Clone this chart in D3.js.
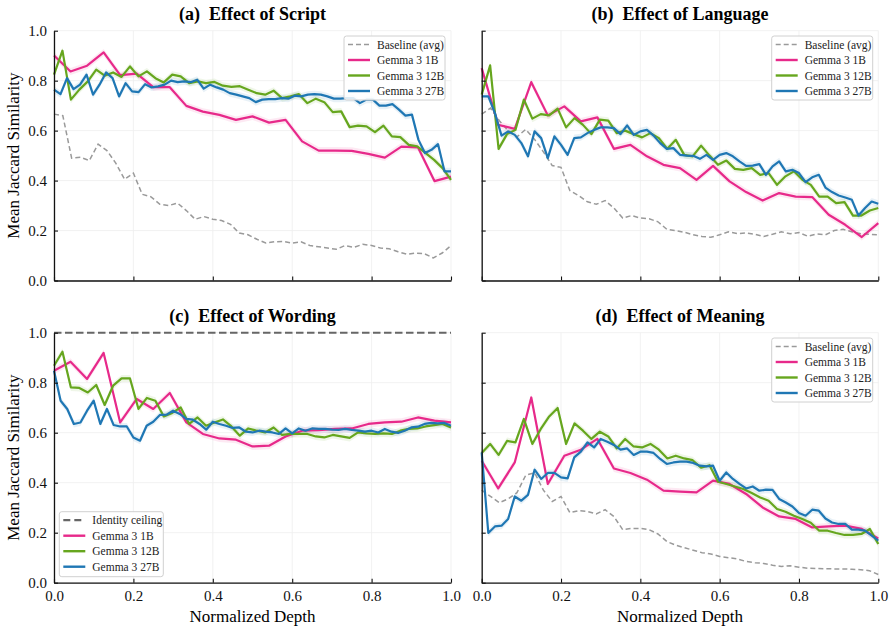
<!DOCTYPE html>
<html>
<head>
<meta charset="utf-8">
<script src="https://cdn.jsdelivr.net/npm/d3@7"></script>
<style>
  body { margin: 0; background: #fff; }
  svg text { font-family: "Liberation Serif", "Times New Roman", Tinos, "DejaVu Serif", serif !important; }
</style>
</head>
<body>
<svg id="chart" width="893" height="632"></svg>
<script>
// ---- data ----
var yTicks = [0.0, 0.2, 0.4, 0.6, 0.8, 1.0];
var xTicks = [0.0, 0.2, 0.4, 0.6, 0.8, 1.0];
var modelNames = ["Gemma 3 1B", "Gemma 3 12B", "Gemma 3 27B"];
var modelColors = ["#e7298a", "#66a61e", "#1f77b4"];
var panelTitles = ["(a)  Effect of Script", "(b)  Effect of Language", "(c)  Effect of Wording", "(d)  Effect of Meaning"];

// (a) script
var scriptBaseline = [0.666,0.66,0.49,0.493,0.48,0.546,0.52,0.47,0.405,0.43,0.345,0.335,0.305,0.30,0.31,0.28,0.245,0.256,0.245,0.24,0.225,0.19,0.183,
  0.165,0.15,0.155,0.156,0.15,0.155,0.14,0.135,0.13,0.125,0.14,0.133,0.145,0.14,0.13,0.127,0.115,0.105,0.11,0.107,0.09,0.11,0.14];
var script1B = [0.901,0.837,0.86,0.913,0.822,0.828,0.774,0.774,0.699,0.676,0.663,0.643,0.657,0.632,0.643,0.557,0.52,0.52,0.519,0.507,0.492,0.536,0.533,0.398,0.416];
var script12B = [0.824,0.92,0.724,0.764,0.797,0.844,0.82,0.833,0.815,0.857,0.817,0.837,0.81,0.793,0.824,0.817,0.79,0.797,0.79,0.795,0.78,0.775,0.778,0.764,
  0.75,0.744,0.76,0.73,0.737,0.746,0.71,0.728,0.714,0.674,0.677,0.614,0.62,0.617,0.594,0.62,0.577,0.574,0.543,0.537,0.51,0.483,0.45,0.403];
var script27B = [0.764,0.746,0.81,0.766,0.784,0.824,0.744,0.784,0.833,0.81,0.737,0.79,0.757,0.754,0.786,0.773,0.777,0.784,0.80,0.794,0.797,0.794,0.804,0.768,
  0.784,0.773,0.764,0.75,0.744,0.737,0.73,0.714,0.724,0.726,0.726,0.73,0.728,0.74,0.737,0.744,0.746,0.744,0.737,0.728,0.728,0.73,0.73,0.71,0.724,0.724,
  0.70,0.70,0.706,0.684,0.66,0.664,0.563,0.51,0.523,0.546,0.437,0.437];

// (b) language
var langBaseline = [0.666,0.69,0.64,0.60,0.575,0.605,0.565,0.515,0.46,0.453,0.36,0.34,0.315,0.305,0.32,0.29,0.25,0.26,0.25,0.247,0.235,0.205,0.2,
  0.193,0.183,0.176,0.173,0.183,0.195,0.188,0.19,0.185,0.176,0.185,0.195,0.187,0.192,0.177,0.186,0.183,0.2,0.205,0.195,0.187,0.185,0.183];
var lang1B = [0.85,0.623,0.607,0.794,0.661,0.697,0.637,0.653,0.527,0.543,0.497,0.463,0.45,0.403,0.459,0.397,0.354,0.32,0.35,0.336,0.334,0.263,0.223,0.174,0.23];
var lang12B = [0.744,0.861,0.527,0.586,0.603,0.724,0.648,0.666,0.661,0.688,0.613,0.65,0.623,0.586,0.644,0.64,0.59,0.60,0.586,0.573,0.59,0.57,0.527,0.563,
  0.503,0.497,0.54,0.50,0.463,0.48,0.447,0.443,0.45,0.423,0.43,0.383,0.417,0.437,0.403,0.383,0.336,0.336,0.31,0.314,0.26,0.26,0.28,0.29];
var lang27B = [0.737,0.737,0.67,0.58,0.597,0.583,0.55,0.497,0.597,0.57,0.49,0.577,0.543,0.503,0.57,0.573,0.59,0.603,0.613,0.613,0.61,0.586,0.621,0.583,
  0.597,0.603,0.58,0.55,0.527,0.53,0.503,0.50,0.499,0.487,0.503,0.483,0.503,0.51,0.497,0.477,0.459,0.46,0.466,0.423,0.457,0.477,0.437,0.443,0.43,0.394,
  0.413,0.423,0.372,0.354,0.34,0.332,0.323,0.26,0.29,0.316,0.307];

// (c) wording
var wordCeiling = [1.0, 1.0];
var word1B = [0.848,0.884,0.815,0.919,0.641,0.735,0.695,0.759,0.641,0.595,0.577,0.572,0.545,0.548,0.585,0.608,0.61,0.615,0.617,0.635,0.641,0.644,0.661,0.648,0.641];
var word12B = [0.868,0.924,0.781,0.779,0.761,0.791,0.711,0.788,0.817,0.817,0.695,0.739,0.728,0.665,0.679,0.701,0.635,0.661,0.628,0.641,0.653,0.625,0.588,0.617,
  0.608,0.601,0.621,0.591,0.595,0.595,0.595,0.585,0.581,0.591,0.585,0.579,0.601,0.597,0.595,0.597,0.595,0.608,0.615,0.617,0.625,0.63,0.635,0.621];
var word27B = [0.848,0.728,0.695,0.635,0.641,0.688,0.728,0.635,0.695,0.631,0.625,0.625,0.581,0.568,0.628,0.644,0.671,0.672,0.688,0.675,0.655,0.652,0.635,0.612,
  0.644,0.635,0.628,0.619,0.621,0.604,0.601,0.608,0.604,0.601,0.595,0.617,0.597,0.617,0.608,0.617,0.615,0.615,0.612,0.611,0.615,0.611,0.608,0.604,0.608,
  0.601,0.615,0.604,0.599,0.608,0.621,0.624,0.635,0.639,0.637,0.639,0.628];

// (d) meaning
var meanBaseline = [0.37,0.345,0.32,0.335,0.36,0.43,0.44,0.37,0.325,0.345,0.28,0.288,0.285,0.275,0.292,0.265,0.212,0.217,0.217,0.212,0.195,0.165,0.15,
  0.14,0.13,0.12,0.115,0.105,0.10,0.095,0.085,0.08,0.077,0.07,0.065,0.068,0.062,0.058,0.057,0.056,0.055,0.055,0.054,0.052,0.048,0.033];
var mean1B = [0.488,0.377,0.481,0.741,0.395,0.508,0.532,0.575,0.457,0.439,0.412,0.368,0.364,0.361,0.408,0.395,0.355,0.301,0.265,0.255,0.221,0.225,0.228,0.215,0.177];
var mean12B = [0.519,0.555,0.511,0.567,0.561,0.655,0.555,0.615,0.665,0.699,0.555,0.637,0.608,0.575,0.604,0.585,0.537,0.575,0.545,0.541,0.555,0.532,0.497,0.508,
  0.497,0.49,0.46,0.47,0.404,0.395,0.385,0.375,0.359,0.341,0.328,0.295,0.284,0.268,0.255,0.24,0.208,0.208,0.199,0.191,0.191,0.195,0.215,0.155];
var mean27B = [0.521,0.199,0.225,0.228,0.255,0.345,0.328,0.351,0.452,0.415,0.439,0.439,0.421,0.417,0.501,0.524,0.561,0.541,0.575,0.564,0.551,0.532,0.537,
  0.511,0.524,0.524,0.519,0.495,0.475,0.481,0.484,0.484,0.479,0.468,0.465,0.468,0.408,0.441,0.415,0.395,0.377,0.385,0.368,0.372,0.371,0.335,0.321,0.305,
  0.279,0.268,0.292,0.288,0.257,0.241,0.235,0.235,0.212,0.212,0.208,0.188,0.168];

// ---- layout ----
var panels = [
  {title: panelTitles[0], left: 54, right: 451, top: 30.7, bottom: 280.5, base: scriptBaseline, models: [script1B, script12B, script27B],
   yLabels: true, xLabels: false, legend: {x: 344, y: 36, w: 101, h: 64, ceiling: false}},
  {title: panelTitles[1], left: 481.7, right: 878.3, top: 30.7, bottom: 280.5, base: langBaseline, models: [lang1B, lang12B, lang27B],
   yLabels: false, xLabels: false, legend: {x: 771.7, y: 36, w: 101, h: 64, ceiling: false}},
  {title: panelTitles[2], left: 54, right: 451, top: 332.7, bottom: 582.7, ceiling: wordCeiling, models: [word1B, word12B, word27B],
   yLabels: true, xLabels: true, legend: {x: 59.3, y: 511.7, w: 104, h: 65, ceiling: true}},
  {title: panelTitles[3], left: 481.7, right: 878.3, top: 332.7, bottom: 582.7, base: meanBaseline, models: [mean1B, mean12B, mean27B],
   yLabels: false, xLabels: true, legend: {x: 771.7, y: 338, w: 101, h: 64, ceiling: false}}
];

var svg = d3.select("#chart");

function toPoints(vals) {
  var n = vals.length;
  return vals.map(function(v, i) { return {d: i / (n - 1), v: v}; });
}

panels.forEach(function(p) {
  var x = d3.scaleLinear().domain([0, 1]).range([p.left, p.right]);
  var y = d3.scaleLinear().domain([0, 1]).range([p.bottom, p.top]);
  var g = svg.append("g");

  // faint grid
  g.selectAll(".gx").data(xTicks).enter().append("line")
    .attr("x1", d => x(d)).attr("x2", d => x(d))
    .attr("y1", p.top).attr("y2", p.bottom)
    .attr("stroke", "#ededed").attr("stroke-width", 0.8);
  g.selectAll(".gy").data(yTicks).enter().append("line")
    .attr("x1", p.left).attr("x2", p.right)
    .attr("y1", d => y(d)).attr("y2", d => y(d))
    .attr("stroke", "#ededed").attr("stroke-width", 0.8);

  var line = d3.line().x(d => x(d.d)).y(d => y(d.v));
  var band = d3.area().x(d => x(d.d)).y0(d => y(d.v - 0.014)).y1(d => y(d.v + 0.014));

  // baseline / ceiling
  if (p.base) {
    g.append("path").datum(toPoints(p.base))
      .attr("d", line).attr("fill", "none")
      .attr("stroke", "#9a9a9a").attr("stroke-width", 1.5)
      .attr("stroke-dasharray", "5,3");
  }
  if (p.ceiling) {
    g.append("path").datum(toPoints(p.ceiling))
      .attr("d", line).attr("fill", "none")
      .attr("stroke", "#666").attr("stroke-width", 2)
      .attr("stroke-dasharray", "7.5,3.5");
  }

  // model bands then lines
  p.models.forEach(function(vals, k) {
    g.append("path").datum(toPoints(vals))
      .attr("d", band).attr("fill", modelColors[k]).attr("fill-opacity", 0.1);
  });
  p.models.forEach(function(vals, k) {
    g.append("path").datum(toPoints(vals))
      .attr("d", line).attr("fill", "none")
      .attr("stroke", modelColors[k]).attr("stroke-width", 2.2)
      .attr("stroke-linejoin", "round");
  });

  // axes (ticks inward)
  var xAxis = d3.axisBottom(x).tickValues(xTicks).tickSizeInner(-4).tickSizeOuter(0).tickPadding(8)
    .tickFormat(p.xLabels ? d3.format(".1f") : "");
  var yAxis = d3.axisLeft(y).tickValues(yTicks).tickSizeInner(-4).tickSizeOuter(0).tickPadding(7)
    .tickFormat(p.yLabels ? d3.format(".1f") : "");
  var gx = g.append("g").attr("transform", `translate(0,${p.bottom})`).call(xAxis);
  var gy = g.append("g").attr("transform", `translate(${p.left},0)`).call(yAxis);
  [gx, gy].forEach(function(a) {
    a.attr("font-family", null);
    a.select(".domain").attr("stroke", "#111").attr("stroke-width", 1.3);
    a.selectAll(".tick line").attr("stroke", "#111").attr("stroke-width", 1.1);
    a.selectAll(".tick text").attr("font-size", 15).attr("fill", "#111");
  });

  // title
  svg.append("text")
    .attr("x", (p.left + p.right) / 2).attr("y", p.top - 11)
    .attr("text-anchor", "middle")
    .attr("font-size", 18).attr("font-weight", "bold")
    .style("white-space", "pre")
    .text(p.title);

  if (p.yLabels) {
    svg.append("text")
      .attr("transform", `translate(19,${(p.top + p.bottom) / 2}) rotate(-90)`)
      .attr("text-anchor", "middle")
      .attr("font-size", 17)
      .text("Mean Jaccard Similarity");
  }
  if (p.xLabels) {
    svg.append("text")
      .attr("x", (p.left + p.right) / 2).attr("y", 622)
      .attr("text-anchor", "middle")
      .attr("font-size", 17)
      .text("Normalized Depth");
  }

  // legend
  var L = p.legend;
  var lg = svg.append("g").attr("transform", `translate(${L.x},${L.y})`);
  lg.append("rect").attr("width", L.w).attr("height", L.h)
    .attr("rx", 2.5).attr("fill", "#fff").attr("fill-opacity", 0.85)
    .attr("stroke", "#d0d0d0").attr("stroke-width", 1);
  var items = [L.ceiling ? {name: "Identity ceiling", color: "#666", dash: "7,4", w: 2.2}
                         : {name: "Baseline (avg)", color: "#9a9a9a", dash: "5,3", w: 1.5}];
  modelNames.forEach(function(n, k) { items.push({name: n, color: modelColors[k], dash: null, w: 2.4}); });
  items.forEach(function(it, i) {
    var yy = 8.5 + i * 15.5;
    lg.append("line").attr("x1", 4).attr("x2", 26).attr("y1", yy).attr("y2", yy)
      .attr("stroke", it.color).attr("stroke-width", it.w)
      .attr("stroke-dasharray", it.dash);
    lg.append("text").attr("x", 33).attr("y", yy).attr("dy", "0.35em")
      .attr("font-size", 11.5).attr("fill", "#222").text(it.name);
  });
});
</script>
</body>
</html>
